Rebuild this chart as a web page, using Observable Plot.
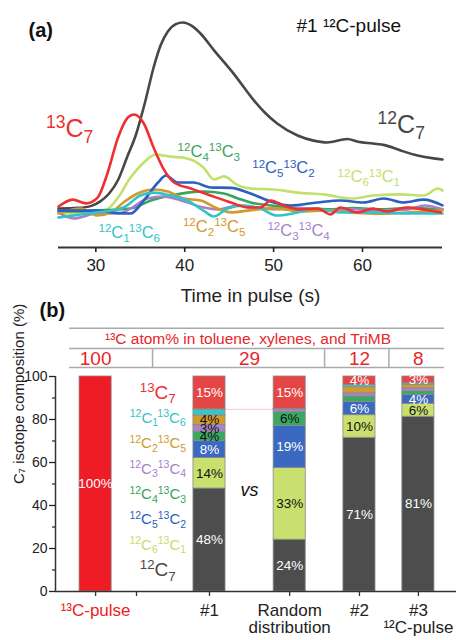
<!DOCTYPE html>
<html><head><meta charset="utf-8">
<script src="https://cdn.jsdelivr.net/npm/d3@7"></script>
<script src="https://cdn.jsdelivr.net/npm/@observablehq/plot@0.6"></script>
<style>
body{margin:0;background:#fff;}
#wrap{position:relative;width:456px;height:640px;overflow:hidden;font-family:"Liberation Sans",Arial,sans-serif;}
#wrap svg{position:absolute;left:0;}
</style></head><body><div id="wrap"></div>
<script>
// ================= DATA: panel (a) — signal vs time in pulse (s), [t, intensity] =================
const timeTicks = [30, 40, 50, 60];
const sig_12C7 = [[25.8,17.3],[28,17.6],[29.5,18.5],[30.5,20.5],[31.5,24],[32.5,30],[33.5,40],[34.5,50],[35.5,64],[36.5,80],[37.3,90],[38.1,96],[39,99.3],[39.8,100],[40.8,98.5],[41.8,95],[43.3,87.6],[45.5,77.3],[47.8,65.3],[49,60],[50.4,55.1],[52.7,49.8],[54.5,47.5],[56,46.7],[58.3,48.2],[59.5,47],[61.2,46.2],[62.5,45.5],[64.3,43.1],[66.2,40.9],[68,39.6],[69,39.1]];
const sig_13C7 = [[25.8,18.2],[27.4,21.3],[28.9,19.6],[30.2,22.2],[31.3,32.9],[32.5,48.9],[33.6,57.8],[34.3,59.1],[35.4,55.1],[36.5,44.4],[37.6,35.1],[38.8,28.9],[40.7,26.2],[42.9,23.1],[45.2,20],[47.1,17.8],[48.5,17.8],[49.7,20.9],[51.1,18.7],[53,16.9],[55,17.3],[56.4,14.7],[57.5,17.8],[59.4,15.6],[61.2,17.3],[62.8,16],[65,17.8],[66.9,16.9],[68.8,15.6]];
const sig_12C6_13C1 = [[25.8,15.5],[28,15],[30,15.5],[31.3,17],[32.5,22.2],[33.9,31.1],[35.4,37.8],[36.7,41.3],[38.4,40.4],[40.3,39.6],[42.1,35.6],[43.3,30.2],[44.4,31.6],[46,27.6],[47.4,26.2],[50,25.8],[52.7,24.4],[55.6,23.6],[58.7,21.8],[61.2,23.1],[64.3,23.6],[66.9,23.1],[68.5,26.2],[69,25.3]];
const sig_12C5_13C2 = [[25.8,16.4],[30,16.4],[32,15.5],[33.9,15.1],[35.4,20.9],[37,28.9],[37.9,32],[39.2,28.9],[41,28.9],[42.9,26.7],[45.2,26.5],[47.4,24],[50,20],[51.9,18.7],[54.9,20],[57.5,20.9],[60.1,20],[62.4,21.8],[64.6,20],[66.9,21.3],[69,18.7]];
const sig_12C4_13C3 = [[25.8,16.4],[28,16],[30,16.5],[32,16.8],[33.9,17.3],[36.2,20.9],[38.4,23.1],[40.3,24.4],[42.1,24.9],[44.4,24],[46,21.8],[47.4,20],[50,18.5],[53,17.5],[56,17],[59,17.5],[62,17],[65,17.5],[69,17]];
const sig_12C3_13C4 = [[25.8,15.6],[27.5,12.9],[30.2,15.1],[32.5,15.1],[33.9,17.3],[35.8,21.8],[37.6,22.7],[39.6,20.9],[42.1,17.8],[43.7,16.9],[46,18.7],[47.4,17.8],[50,17],[53,17.5],[56,16.5],[59,17],[62,16.5],[65,16.8],[67,18.7],[69,17]];
const sig_12C2_13C5 = [[25.8,15.1],[28.3,17.3],[30.2,14.2],[31.7,15.6],[33.1,20],[34.7,24],[36.5,25.8],[38.1,24.9],[39.9,21.8],[41.8,20.9],[43.7,17.3],[45.2,15.6],[47.1,16.4],[50,17.5],[53,16],[56,16.5],[59,15.5],[62,15],[65,15.5],[69,16.5]];
const sig_12C1_13C6 = [[25.8,13.3],[28,14.5],[30.2,15.6],[33.1,17.8],[35,23.1],[36.5,24.4],[38.4,23.1],[40.3,20.9],[42.1,16.4],[43.3,13.8],[44.8,17.3],[46.7,18.7],[48.5,17.3],[50.4,14.2],[52.7,15.6],[54.5,17.3],[57.5,15.6],[60.9,15.6],[64,15.2],[69,15.1]];

// isotopologue names, in stacking order (bottom -> top); ^ = superscript, _ = subscript
const isoNames = ["^12C_7","^12C_6^13C_1","^12C_5^13C_2","^12C_4^13C_3","^12C_3^13C_4","^12C_2^13C_5","^12C_1^13C_6","^13C_7"];
const isoSignals = [sig_12C7, sig_12C6_13C1, sig_12C5_13C2, sig_12C4_13C3, sig_12C3_13C4, sig_12C2_13C5, sig_12C1_13C6, sig_13C7];
// label anchors in panel (a): [time, intensity]
const curveLabelAt = [[61.7,50.7],[57.2,28.9],[47.6,32.9],[39.2,40.4],[49.3,5.3],[39.8,6.7],[30.3,4.4],[24.4,48.9]];

// ================= DATA: panel (b) — C7 isotope composition (%) =================
const runNames = ["¹³C-pulse", "#1", "Random\ndistribution", "#2", "#3\n¹²C-pulse"];
const comp_13Cpulse = [0,0,0,0,0,0,0,100];
const comp_run1     = [47.9,14.2,7.8,4.4,3.2,4.4,2.8,15.3];
const comp_random   = [24.1,33.3,19.6,6.4,1.3,0.2,0.1,15.0];
const comp_run2     = [71.5,10.5,6.2,2.5,1.5,2.8,1.0,4.0];
const comp_run3     = [81.3,6.0,4.2,1.6,1.4,1.5,0.8,3.2];
const lbl_13Cpulse = [null,null,null,null,null,null,null,100];
const lbl_run1     = [48,14,8,4,3,4,null,15];
const lbl_random   = [24,33,19,6,null,null,null,15];
const lbl_run2     = [71,10,6,null,null,null,null,4];
const lbl_run3     = [81,6,4,null,null,null,null,3];
const atomPctGroups = ["100", "29", "12", "8"];
const atomPctGroupRuns = [[0],[1,2],[3],[4]];

// ================= LAYOUT / STYLE =================
const FONT = '"Liberation Sans", Arial, sans-serif';
const lineColors = ["#474747","#c2e06c","#2c5fbf","#3aa35c","#a87fcc","#d19a2a","#33c3c6","#ee3030"];
const barColors  = ["#4d4d4d","#c9e06f","#3b68c0","#3aa860","#a884c8","#d19b2e","#3ac4c4","#e64545"];
const pulseRed = "#ee1c25";
const labelInk = ["#fff","#111","#fff","#111","#111","#111","#111","#fff"];
const runSlots = [1, 3.84, 5.84, 7.58, 9.05];   // x slot of each bar
const extraTick = 2.02;
const legendSlot = 2.55;
const halfBar = 0.4;

// ---------- panel (a) ----------
const lineRows = [];
isoSignals.forEach((s, i) => s.forEach(([t, v]) => lineRows.push({iso: i, t, v})));
const drawOrder = [0,1,3,4,5,2,6,7];
const curveLabels = isoNames.map((n, i) => ({text: n, t: curveLabelAt[i][0], v: curveLabelAt[i][1], i, big: i === 0 || i === 7}));

const plotA = Plot.plot({
  width: 456, height: 306,
  marginLeft: 58, marginRight: 14, marginTop: 22, marginBottom: 59,
  x: {domain: [25.8, 69]},
  y: {domain: [0, 100], axis: null},
  style: {background: "transparent", overflow: "visible", fontFamily: FONT},
  marks: [
    ...drawOrder.map(i => Plot.line(lineRows.filter(d => d.iso === i), {x: "t", y: "v", stroke: lineColors[i], strokeWidth: 2.6, curve: "monotone-x"})),
    Plot.ruleY([0], {stroke: "#333", strokeWidth: 2}),
    Plot.axisX({ticks: timeTicks, tickSize: 5, tickPadding: 6, fontSize: 17, label: null, strokeWidth: 1.6, color: "#222"}),
    Plot.text(["Time in pulse (s)"], {frameAnchor: "bottom", dy: 54, lineAnchor: "bottom", fontSize: 19, fill: "#222"}),
    Plot.text(curveLabels.filter(d => !d.big), {x: "t", y: "v", text: "text", fill: d => lineColors[d.i], fontSize: 16.5, textAnchor: "start", lineAnchor: "bottom"}),
    Plot.text(curveLabels.filter(d => d.big), {x: "t", y: "v", text: "text", fill: d => lineColors[d.i], fontSize: 25, textAnchor: "start", lineAnchor: "bottom"}),
    Plot.text(["(a)"], {frameAnchor: "top-left", dx: -30, dy: 14, lineAnchor: "bottom", textAnchor: "start", fontSize: 20, fontWeight: "bold", fill: "#111"}),
    Plot.text(["#1 ¹²C-pulse"], {frameAnchor: "top-left", dx: 238, dy: 9, lineAnchor: "bottom", textAnchor: "start", fontSize: 19, fill: "#111"})
  ]
});

// ---------- panel (b) ----------
const comps = [comp_13Cpulse, comp_run1, comp_random, comp_run2, comp_run3];
const lbls = [lbl_13Cpulse, lbl_run1, lbl_random, lbl_run2, lbl_run3];
const segs = [];
comps.forEach((vals, r) => {
  const tops = d3.cumsum(vals);
  vals.forEach((v, i) => {
    if (v <= 0) return;
    segs.push({r, i, x1: runSlots[r] - halfBar, x2: runSlots[r] + halfBar, y1: tops[i] - v, y2: tops[i],
      fill: r === 0 ? pulseRed : barColors[i], label: lbls[r][i]});
  });
});
const segLabels = segs.filter(d => d.label != null);
const legendRows = isoNames.map((n, i) => ({text: n, i})).reverse().map((d, k) => ({...d, k}));
const legendY = k => 92.5 - k * 11.8;
const runLabels = runNames.map((n, r) => ({n, x: runSlots[r], fill: r === 0 ? pulseRed : "#222"}));
const groupRows = atomPctGroups.map((g, j) => ({g, x: d3.mean(atomPctGroupRuns[j], r => runSlots[r])}));
const separators = atomPctGroupRuns.slice(1).map((runs, j) => (runSlots[runs[0]] + runSlots[runs[0] - 1]) / 2);
const tableX1 = 0.35, tableX2 = 9.7;
const rowTop = 122.5, rowMid = 113, rowBot = 104.2;

const plotB = Plot.plot({
  width: 456, height: 334,
  marginLeft: 55, marginRight: 0, marginTop: 70, marginBottom: 49,
  x: {domain: [0, 10]},
  y: {domain: [0, 100]},
  color: {type: "identity"},
  style: {background: "transparent", overflow: "visible", fontFamily: FONT},
  marks: [
    // table header
    Plot.ruleY([rowTop, rowMid, rowBot], {x1: tableX1, x2: tableX2, stroke: "#aaa", strokeWidth: 1.5}),
    Plot.ruleX(separators, {y1: rowBot, y2: rowMid, stroke: "#aaa", strokeWidth: 1.5}),
    Plot.text(["¹³C atom% in toluene, xylenes, and TriMB"], {x: 4.8, y: 115.3, lineAnchor: "bottom", fontSize: 15.5, fill: "#e8262a"}),
    Plot.text(groupRows, {x: "x", y: 105.3, text: "g", lineAnchor: "bottom", fontSize: 19, fill: "#e8262a"}),
    // faint guide
    Plot.ruleY([comp_run1.slice(0, 7).reduce((a, b) => a + b, 0)], {x1: runSlots[1] + halfBar, x2: runSlots[2] - halfBar, stroke: "#f6caca", strokeWidth: 1}),
    // bars
    Plot.rect(segs, {x1: "x1", x2: "x2", y1: "y1", y2: "y2", fill: "fill", stroke: "#8a8a8a", strokeWidth: 0.8}),
    Plot.text(segLabels, {x: d => runSlots[d.r], y: d => (d.y1 + d.y2) / 2, text: d => d.label + "%", fill: d => labelInk[d.i], fontSize: 13.5}),
    // legend column
    Plot.text(legendRows.filter(d => d.i !== 0 && d.i !== 7), {x: legendSlot, y: d => legendY(d.k), text: "text", fill: d => lineColors[d.i], fontSize: 15}),
    Plot.text(legendRows.filter(d => d.i === 0 || d.i === 7), {x: legendSlot, y: d => legendY(d.k), text: "text", fill: d => lineColors[d.i], fontSize: 19}),
    Plot.text(["vs"], {x: d3.mean([runSlots[1], runSlots[2]]), y: 46.9, fontSize: 18, fontStyle: "italic", fill: "#111"}),
    // axes
    Plot.ruleY([0], {stroke: "#333", strokeWidth: 1.5}),
    Plot.ruleX([0], {y1: 0, y2: 100, stroke: "#333", strokeWidth: 1.5}),
    Plot.axisX({ticks: [...runSlots, extraTick], tickSize: 5, tickFormat: () => "", label: null, strokeWidth: 1.3, color: "#333"}),
    Plot.axisY({ticks: [0, 20, 40, 60, 80, 100], tickSize: 6, tickPadding: 2, fontSize: 14, label: null, strokeWidth: 1.3, color: "#222"}),
    Plot.axisY({ticks: [10, 30, 50, 70, 90], tickSize: 3, tickFormat: () => "", label: null, strokeWidth: 1.3, color: "#333"}),
    Plot.text(runLabels, {x: "x", text: "n", frameAnchor: "bottom", dy: 12, lineAnchor: "top", lineHeight: 1.0, fontSize: 17, fill: "fill"}),
    Plot.text(["C₇ isotope composition (%)"], {frameAnchor: "left", dx: -36, rotate: -90, fontSize: 15, fill: "#222"}),
    Plot.text(["(b)"], {frameAnchor: "top-left", dx: -16, dy: -60, lineAnchor: "bottom", textAnchor: "start", fontSize: 20, fontWeight: "bold", fill: "#111"})
  ]
});

const wrap = document.getElementById("wrap");
plotA.style.top = "0px";
plotB.style.top = "306px";
wrap.appendChild(plotA);
wrap.appendChild(plotB);

// turn ^digits / _digits markup into real superscript / subscript tspans
function richify(svg) {
  svg.querySelectorAll("text").forEach(t => {
    const s = t.textContent;
    if (!/[\^_]\d/.test(s)) return;
    const fs = parseFloat(getComputedStyle(t).fontSize) || 16;
    t.textContent = "";
    let shift = 0;
    const re = /([\^_])(\d+)|([^\^_]+)/g;
    let m;
    while ((m = re.exec(s))) {
      const ts = document.createElementNS("http://www.w3.org/2000/svg", "tspan");
      let target = 0, txt;
      if (m[1]) {
        target = m[1] === "^" ? -0.36 * fs : 0.24 * fs;
        txt = m[2];
        ts.setAttribute("font-size", (0.7 * fs).toFixed(2));
      } else txt = m[3];
      ts.setAttribute("dy", (target - shift).toFixed(2));
      shift = target;
      ts.textContent = txt;
      t.appendChild(ts);
    }
  });
}
richify(plotA);
richify(plotB);
</script></body></html>
